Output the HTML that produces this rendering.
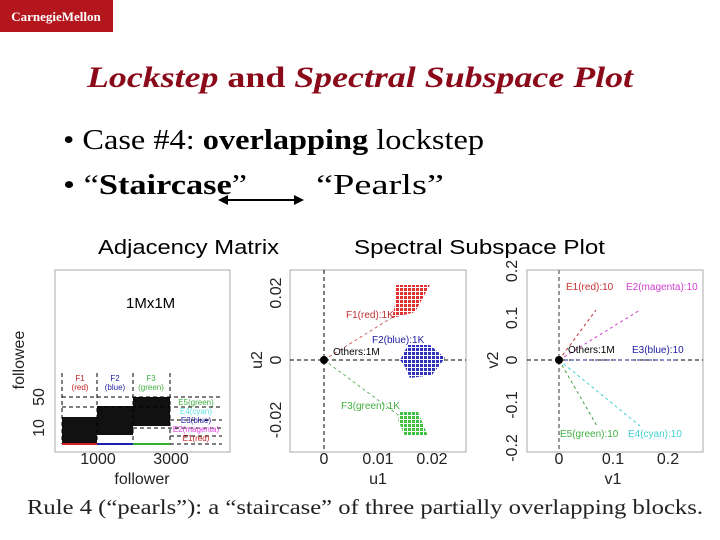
<!DOCTYPE html>
<html><head><style>
body{margin:0;background:#fff;}
svg{display:block;}
</style></head><body>
<svg width="720" height="540" viewBox="0 0 720 540" xmlns="http://www.w3.org/2000/svg">
<defs>
<pattern id="pr" width="4" height="4" patternUnits="userSpaceOnUse"><rect width="4" height="4" fill="#fff"/><rect width="3" height="3" fill="#e03030"/></pattern>
<pattern id="pb" width="4" height="4" patternUnits="userSpaceOnUse"><rect width="4" height="4" fill="#fff"/><rect width="3" height="3" fill="#3030c0"/></pattern>
<pattern id="pg" width="4" height="4" patternUnits="userSpaceOnUse"><rect width="4" height="4" fill="#fff"/><rect width="3" height="3" fill="#40c040"/></pattern>
</defs>
<rect x="0" y="0" width="113" height="32" fill="#b3171d"/>
<text x="56" y="21" font-family="Liberation Serif, serif" font-size="13" fill="#fff" text-anchor="middle" font-weight="bold">CarnegieMellon</text>
<text x="87" y="87" textLength="546" lengthAdjust="spacingAndGlyphs" font-family="Liberation Serif, serif" font-size="30" font-weight="bold" fill="#8b0a1a"><tspan font-style="italic">Lockstep</tspan> and <tspan font-style="italic">Spectral Subspace Plot</tspan></text>
<g font-family="Liberation Serif, serif" font-size="28" fill="#000">
<text x="63" y="149" textLength="421" lengthAdjust="spacingAndGlyphs">• Case #4: <tspan font-weight="bold">overlapping</tspan> lockstep</text>
<text x="63" y="194" textLength="184" lengthAdjust="spacingAndGlyphs">• “<tspan font-weight="bold">Staircase</tspan>”</text>
<text x="316" y="194" textLength="128" lengthAdjust="spacingAndGlyphs">“Pearls”</text>
</g>
<line x1="226" y1="200" x2="296" y2="200" stroke="#000" stroke-width="2"/>
<polygon points="218,200 228,195 228,205" fill="#000"/>
<polygon points="304,200 294,195 294,205" fill="#000"/>
<g font-family="Liberation Sans, sans-serif" font-size="20" fill="#000">
<text x="98" y="254" textLength="181" lengthAdjust="spacingAndGlyphs">Adjacency Matrix</text>
<text x="354" y="254" textLength="251" lengthAdjust="spacingAndGlyphs">Spectral Subspace Plot</text>
</g>
<!-- left plot -->
<rect x="55" y="270" width="175" height="182" fill="none" stroke="#aaa"/>
<text x="126" y="308" font-family="Liberation Sans, sans-serif" font-size="15">1Mx1M</text>
<rect x="62" y="417" width="35" height="27" fill="#111"/>
<rect x="97" y="406" width="36" height="29" fill="#111"/>
<rect x="133" y="397" width="37" height="29" fill="#111"/>
<g stroke="#000" stroke-dasharray="4,3" stroke-width="1">
<line x1="62" y1="373" x2="62" y2="444"/><line x1="97" y1="373" x2="97" y2="444"/>
<line x1="133" y1="373" x2="133" y2="444"/><line x1="170" y1="373" x2="170" y2="444"/>
<line x1="62" y1="397" x2="222" y2="397"/><line x1="62" y1="407" x2="222" y2="407"/>
<line x1="170" y1="420" x2="222" y2="420"/><line x1="133" y1="428" x2="222" y2="428"/>
<line x1="170" y1="436" x2="222" y2="436"/><line x1="170" y1="444" x2="222" y2="444"/>
</g>
<line x1="62" y1="444" x2="97" y2="444" stroke="#d02020" stroke-width="2"/>
<line x1="97" y1="444" x2="133" y2="444" stroke="#2020b0" stroke-width="2"/>
<line x1="133" y1="444" x2="170" y2="444" stroke="#30b030" stroke-width="2"/>
<g font-family="Liberation Sans, sans-serif" font-size="8" text-anchor="middle">
<text x="80" y="381" fill="#c02020">F1</text><text x="80" y="390" fill="#c02020">(red)</text>
<text x="115" y="381" fill="#2020a0">F2</text><text x="115" y="390" fill="#2020a0">(blue)</text>
<text x="151" y="381" fill="#40b040">F3</text><text x="151" y="390" fill="#40b040">(green)</text>
<text x="196" y="405" fill="#40b040">E5(green)</text>
<text x="196" y="414" fill="#60e0e0">E4(cyan)</text>
<text x="196" y="423" fill="#2020a0">E3(blue)</text>
<text x="196" y="432" fill="#e040e0">E2(magenta)</text>
<text x="196" y="441" fill="#c02020">E1(red)</text>
</g>
<g font-family="Liberation Sans, sans-serif" font-size="16" fill="#222">
<text x="98" y="464" text-anchor="middle">1000</text>
<text x="171" y="464" text-anchor="middle">3000</text>
<text x="142" y="484" text-anchor="middle">follower</text>
<text transform="translate(44,428) rotate(-90)" text-anchor="middle">10</text>
<text transform="translate(44,397) rotate(-90)" text-anchor="middle">50</text>
<text transform="translate(24,360) rotate(-90)" text-anchor="middle">followee</text>
</g>
<!-- middle plot -->
<rect x="290" y="270" width="176" height="182" fill="none" stroke="#aaa"/>
<g stroke="#000" stroke-dasharray="4,3"><line x1="324" y1="270" x2="324" y2="452"/><line x1="290" y1="360" x2="466" y2="360"/></g>
<line x1="324" y1="360" x2="420" y2="300" stroke="#c04040" stroke-dasharray="3,3" stroke-width="0.8"/>
<line x1="324" y1="360" x2="405" y2="420" stroke="#40a040" stroke-dasharray="3,3" stroke-width="0.8"/>
<polygon points="396,285 430,285 415,312 404,315 392,318 396,300" fill="url(#pr)"/>
<polygon points="408,345 430,345 445,358 432,375 410,378 404,365 400,360" fill="url(#pb)"/>
<polygon points="400,412 418,412 428,436 405,436 398,420" fill="url(#pg)"/>
<circle cx="324" cy="360" r="4" fill="#000"/>
<g font-family="Liberation Sans, sans-serif" font-size="10">
<text x="346" y="318" fill="#c03030">F1(red):1K</text>
<text x="372" y="343" fill="#2020a0">F2(blue):1K</text>
<text x="333" y="355" fill="#000">Others:1M</text>
<text x="341" y="409" fill="#40b040">F3(green):1K</text>
</g>
<g font-family="Liberation Sans, sans-serif" font-size="16" fill="#222">
<text x="324" y="464" text-anchor="middle">0</text>
<text x="378" y="464" text-anchor="middle">0.01</text>
<text x="432" y="464" text-anchor="middle">0.02</text>
<text x="378" y="484" text-anchor="middle">u1</text>
<text transform="translate(281,293) rotate(-90)" text-anchor="middle">0.02</text>
<text transform="translate(281,360) rotate(-90)" text-anchor="middle">0</text>
<text transform="translate(281,420) rotate(-90)" text-anchor="middle">-0.02</text>
<text transform="translate(262,360) rotate(-90)" text-anchor="middle">u2</text>
</g>
<!-- right plot -->
<rect x="527" y="270" width="176" height="182" fill="none" stroke="#aaa"/>
<line x1="559" y1="270" x2="559" y2="452" stroke="#999" stroke-dasharray="4,3" stroke-width="2"/>
<line x1="527" y1="360" x2="703" y2="360" stroke="#000" stroke-dasharray="4,3"/>
<g stroke-dasharray="3,3" stroke-width="1">
<line x1="559" y1="360" x2="596" y2="310" stroke="#c03030"/>
<line x1="559" y1="360" x2="640" y2="310" stroke="#d040d0"/>
<line x1="559" y1="360" x2="678" y2="360" stroke="#2020a0"/>
<line x1="559" y1="360" x2="597" y2="426" stroke="#40a040"/>
<line x1="559" y1="360" x2="640" y2="426" stroke="#40d0d0"/>
</g>
<circle cx="559" cy="360" r="4" fill="#000"/>
<g font-family="Liberation Sans, sans-serif" font-size="10">
<text x="566" y="290" fill="#c03030">E1(red):10</text>
<text x="626" y="290" fill="#d040d0">E2(magenta):10</text>
<text x="568" y="353" fill="#000">Others:1M</text>
<text x="632" y="353" fill="#2020a0">E3(blue):10</text>
<text x="560" y="437" fill="#40b040">E5(green):10</text>
<text x="628" y="437" fill="#40d0d0">E4(cyan):10</text>
</g>
<g font-family="Liberation Sans, sans-serif" font-size="16" fill="#222">
<text x="559" y="464" text-anchor="middle">0</text>
<text x="613" y="464" text-anchor="middle">0.1</text>
<text x="668" y="464" text-anchor="middle">0.2</text>
<text x="613" y="484" text-anchor="middle">v1</text>
<text transform="translate(517,271) rotate(-90)" text-anchor="middle">0.2</text>
<text transform="translate(517,318) rotate(-90)" text-anchor="middle">0.1</text>
<text transform="translate(517,360) rotate(-90)" text-anchor="middle">0</text>
<text transform="translate(517,405) rotate(-90)" text-anchor="middle">-0.1</text>
<text transform="translate(517,448) rotate(-90)" text-anchor="middle">-0.2</text>
<text transform="translate(498,360) rotate(-90)" text-anchor="middle">v2</text>
</g>
<text x="27" y="514" textLength="676" lengthAdjust="spacingAndGlyphs" font-family="Liberation Serif, serif" font-size="21" fill="#222">Rule 4 (“pearls”): a “staircase” of three partially overlapping blocks.</text>
</svg>
</body></html>
